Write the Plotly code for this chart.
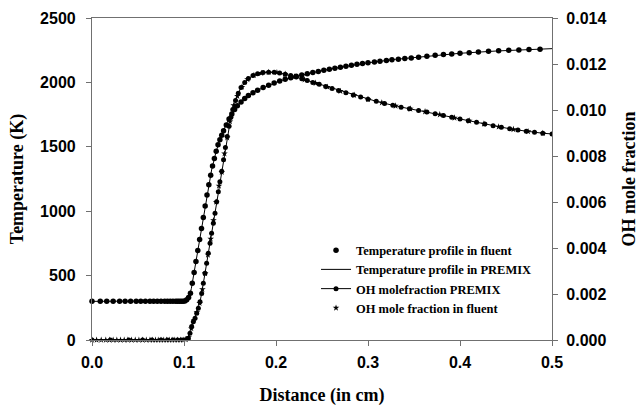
import plotly.graph_objects as go

# ---------------- data ----------------
# Temperature profile in fluent (markers)
dist_T_fluent = [0.000, 0.009, 0.016, 0.023, 0.030, 0.036, 0.042, 0.048, 0.053, 0.058,
                 0.063, 0.067, 0.071, 0.075, 0.079, 0.082, 0.085, 0.088, 0.091, 0.093,
                 0.095, 0.097, 0.099, 0.101, 0.103, 0.105, 0.107, 0.109, 0.111, 0.113,
                 0.115, 0.117, 0.119, 0.121, 0.123, 0.125, 0.127, 0.129, 0.131, 0.133,
                 0.135, 0.137, 0.139, 0.141, 0.143, 0.146, 0.149, 0.152, 0.155, 0.158,
                 0.162, 0.166, 0.170, 0.175, 0.180, 0.186, 0.192, 0.198, 0.204, 0.210,
                 0.216, 0.222, 0.228, 0.234, 0.240, 0.246, 0.252, 0.258, 0.264, 0.270,
                 0.276, 0.282, 0.288, 0.294, 0.300, 0.307, 0.313, 0.320, 0.326, 0.333,
                 0.340, 0.347, 0.355, 0.364, 0.373, 0.382, 0.391, 0.400, 0.410, 0.420,
                 0.431, 0.442, 0.453, 0.464, 0.475, 0.487]
temp_fluent = [300, 300, 300, 300, 300, 300, 300, 300, 300, 300,
               300, 300, 300, 300, 300, 300, 300, 300, 300, 300,
               300, 300, 300, 302, 312, 330, 362, 440, 525, 610,
               695, 780, 865, 952, 1040, 1125, 1205, 1280, 1350, 1410,
               1465, 1515, 1555, 1590, 1625, 1670, 1715, 1755, 1790, 1818,
               1848, 1875, 1898, 1920, 1940, 1960, 1978, 1995, 2010, 2024,
               2036, 2047, 2057, 2067, 2076, 2085, 2094, 2102, 2110, 2118,
               2126, 2133, 2140, 2146, 2152, 2158, 2164, 2170, 2175, 2180,
               2185, 2190, 2196, 2203, 2210, 2216, 2221, 2226, 2231, 2236,
               2241, 2245, 2249, 2252, 2255, 2258]

# Temperature profile in PREMIX (line)
dist_T_premix = [0.000, 0.100, 0.102, 0.104, 0.106, 0.108, 0.110, 0.115, 0.120, 0.125,
                 0.130, 0.135, 0.140, 0.145, 0.150, 0.160, 0.170, 0.180, 0.190, 0.200,
                 0.210, 0.220, 0.240, 0.260, 0.280, 0.300, 0.330, 0.360, 0.400, 0.440,
                 0.480, 0.500]
temp_premix = [300, 300, 305, 320, 345, 400, 485, 700, 915, 1135,
               1320, 1465, 1575, 1660, 1735, 1835, 1898, 1940, 1972, 2000,
               2024, 2043, 2076, 2106, 2131, 2152, 2179, 2200, 2226, 2244,
               2257, 2262]

# OH molefraction PREMIX (line + markers)
dist_OH_premix = [0.000, 0.020, 0.040, 0.055, 0.065, 0.075, 0.082, 0.088, 0.093, 0.097,
                  0.100, 0.1025, 0.1047, 0.1065, 0.1083, 0.1101, 0.1120, 0.1138, 0.1156, 0.1174,
                  0.1192, 0.1210, 0.1228, 0.1246, 0.1264, 0.1283, 0.1300, 0.1319, 0.1337, 0.1355,
                  0.1373, 0.1390, 0.141, 0.143, 0.145, 0.147, 0.149, 0.151, 0.153, 0.156,
                  0.159, 0.162, 0.166, 0.170, 0.175, 0.180, 0.186, 0.192, 0.198, 0.204,
                  0.210, 0.216, 0.222, 0.228, 0.234, 0.240, 0.247, 0.254, 0.261, 0.268,
                  0.276, 0.284, 0.292, 0.300, 0.309, 0.318, 0.327, 0.336, 0.345, 0.355,
                  0.364, 0.373, 0.382, 0.391, 0.400, 0.409, 0.418, 0.427, 0.436, 0.445,
                  0.454, 0.463, 0.472, 0.481, 0.490, 0.500]
oh_premix = [0.0, 0.0, 0.0, 0.0, 0.0, 0.0, 0.0, 0.0, 0.0, 0.0,
             0.0, 0.00001, 0.000073, 0.000291, 0.000582, 0.000795, 0.000941, 0.001159, 0.001378, 0.001663,
             0.002027, 0.002464, 0.002901, 0.003332, 0.003769, 0.004206, 0.004637, 0.005074, 0.00551, 0.006014,
             0.006446, 0.006882, 0.007336, 0.00784, 0.008372, 0.008848, 0.009296, 0.009688, 0.010024, 0.010416,
             0.010724, 0.010976, 0.0112, 0.011368, 0.011497, 0.011575, 0.011626, 0.011642, 0.011637, 0.011609,
             0.011558, 0.011497, 0.01143, 0.011357, 0.011284, 0.0112, 0.011116, 0.011021, 0.010931, 0.010847,
             0.010752, 0.010657, 0.010562, 0.010472, 0.010377, 0.010287, 0.010203, 0.010125, 0.010052, 0.009979,
             0.009912, 0.009839, 0.009761, 0.009688, 0.00961, 0.009537, 0.009464, 0.009386, 0.009313, 0.009246,
             0.009184, 0.009128, 0.009078, 0.009033, 0.008988, 0.00896]

# OH mole fraction in fluent (star markers)
dist_OH_fluent = [0.000, 0.005, 0.010, 0.015, 0.019, 0.023, 0.027, 0.031, 0.035, 0.039,
                  0.043, 0.047, 0.051, 0.055, 0.059, 0.063, 0.066, 0.069, 0.072, 0.075,
                  0.078, 0.081, 0.084, 0.087, 0.090, 0.093, 0.096, 0.099, 0.102, 0.105,
                  0.108, 0.111, 0.114, 0.117, 0.120, 0.123, 0.126, 0.129, 0.132, 0.135,
                  0.138, 0.141, 0.144, 0.147, 0.150, 0.154, 0.158, 0.163, 0.169, 0.176,
                  0.184, 0.192, 0.201, 0.210, 0.220, 0.231, 0.243, 0.256, 0.270, 0.285,
                  0.300, 0.315, 0.330, 0.346, 0.362, 0.378, 0.394, 0.410, 0.426, 0.442,
                  0.458, 0.474, 0.490]
oh_fluent = [0.0, 0.0, 0.0, 0.0, 0.0, 0.0, 0.0, 0.0, 0.0, 0.0,
             0.0, 0.0, 0.0, 0.0, 0.0, 0.0, 0.0, 0.0, 0.0, 0.0,
             0.0, 0.0, 0.0, 0.0, 0.0, 0.0, 0.0, 0.0, 0.00002, 0.00012,
             0.0005, 0.00087, 0.0012, 0.0016, 0.0022, 0.0029, 0.0037, 0.0044, 0.0052, 0.0060,
             0.0067, 0.0073, 0.0081, 0.0088, 0.0095, 0.0102, 0.0106, 0.0110, 0.01133, 0.01151,
             0.01160, 0.01164, 0.01163, 0.01156, 0.01145, 0.01132, 0.01117, 0.01100, 0.01082, 0.01065,
             0.01047, 0.01032, 0.01018, 0.01005, 0.00993, 0.00980, 0.00966, 0.00953, 0.00940, 0.00927,
             0.00916, 0.00907, 0.00899]

temp_ticks = [0, 500, 1000, 1500, 2000, 2500]
oh_ticks = [0.000, 0.002, 0.004, 0.006, 0.008, 0.010, 0.012, 0.014]
dist_ticks = [0.0, 0.1, 0.2, 0.3, 0.4, 0.5]

# ---------------- figure ----------------
BLACK = "#000000"
AXIS = "#707070"
tick_font = dict(family="Liberation Sans, Arial, sans-serif", size=16, color=BLACK, weight="bold")
title_font = dict(family="Liberation Serif, Times New Roman, serif", size=18, color=BLACK, weight="bold")

fig = go.Figure()
fig.add_trace(go.Scatter(
    x=dist_T_fluent, y=temp_fluent, mode="markers", name="Temperature profile in fluent",
    marker=dict(symbol="circle", size=5.5, color=BLACK), yaxis="y", cliponaxis=False))
fig.add_trace(go.Scatter(
    x=dist_T_premix, y=temp_premix, mode="lines", name="Temperature profile in PREMIX",
    line=dict(color=BLACK, width=1), yaxis="y"))
fig.add_trace(go.Scatter(
    x=dist_OH_premix, y=oh_premix, mode="lines+markers", name="OH molefraction PREMIX",
    line=dict(color=BLACK, width=1), marker=dict(symbol="circle", size=5, color=BLACK),
    yaxis="y2", cliponaxis=True))
fig.add_trace(go.Scatter(
    x=dist_OH_fluent, y=oh_fluent, mode="markers", name="OH mole fraction in fluent",
    marker=dict(symbol="star", size=5, color=BLACK), yaxis="y2", cliponaxis=False))

fig.update_layout(
    width=639, height=406,
    margin=dict(l=92, r=87, t=18, b=66, autoexpand=False),
    paper_bgcolor="white", plot_bgcolor="white",
    showlegend=True,
    legend=dict(
        x=0.487, y=0.3245, xanchor="left", yanchor="top",
        bgcolor="rgba(0,0,0,0)", borderwidth=0,
        font=dict(family="Liberation Serif, Times New Roman, serif", size=12.5, color=BLACK, weight="bold"),
        itemwidth=30, tracegroupgap=0,
    ),
    xaxis=dict(
        range=[0, 0.5], tickvals=dist_ticks, tickformat=".1f",
        showline=True, linecolor=AXIS, linewidth=1.2, mirror=True,
        ticks="outside", ticklen=5, tickcolor=AXIS, showgrid=False, zeroline=False,
        tickfont=tick_font, ticklabelstandoff=3, automargin=False,
        title=dict(text="Distance (in cm)", font=title_font, standoff=25),
    ),
    yaxis=dict(
        range=[0, 2500], tickvals=temp_ticks,
        showline=True, linecolor=AXIS, linewidth=1.2,
        ticks="outside", ticklen=5, tickcolor=AXIS, showgrid=False, zeroline=False,
        tickfont=tick_font, ticklabelstandoff=7, automargin=False,
        title=dict(text="Temperature (K)", font=title_font, standoff=11),
    ),
    yaxis2=dict(
        range=[0, 0.014], tickvals=oh_ticks, tickformat=".3f",
        overlaying="y", side="right",
        showline=True, linecolor=AXIS, linewidth=1.2,
        ticks="outside", ticklen=5, tickcolor=AXIS, showgrid=False, zeroline=False,
        tickfont=tick_font, ticklabelstandoff=5, automargin=False,
        title=dict(text="OH mole fraction", font=title_font, standoff=17),
    ),
)

fig.write_html(
    "out.html",
    config={"displayModeBar": False},
    post_script="document.body.style.margin='0px';document.body.style.overflow='hidden';",
)
